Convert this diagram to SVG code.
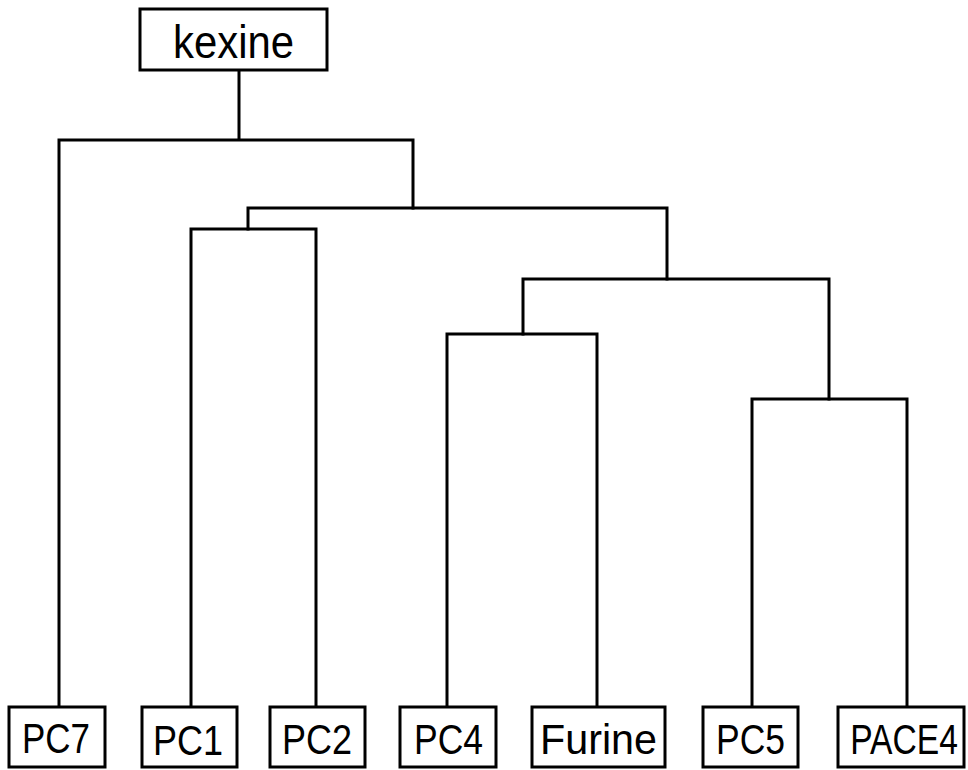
<svg xmlns="http://www.w3.org/2000/svg" width="968" height="770" viewBox="0 0 968 770">
<style>
.box{fill:#fff;stroke:#000;stroke-width:3}
.lbl{font-family:"Liberation Sans",Arial,sans-serif;font-size:42px;fill:#000;text-anchor:middle}
.con{fill:none;stroke:#000;stroke-width:3;stroke-linecap:square}
</style>
<rect width="968" height="770" fill="#fff"/>
<g id="connectors">
<path class="con" d="M239,70V140M59,140H413M59,140V707M413,140V208"/>
<path class="con" d="M248,208H667M248,208V229M667,208V279"/>
<path class="con" d="M191,229H316M191,229V707M316,229V707"/>
<path class="con" d="M523,279H829M523,279V334M829,279V399"/>
<path class="con" d="M447,334H597M447,334V707M597,334V707"/>
<path class="con" d="M752,399H907M752,399V707M907,399V707"/>
</g>
<g id="kexine"><rect class="box" x="140" y="9" width="187" height="61"/><text class="lbl" x="233.5" y="58" textLength="121" lengthAdjust="spacingAndGlyphs" style="font-size:46px">kexine</text></g>
<g id="PC7"><rect class="box" x="9" y="707" width="96" height="60"/><text class="lbl" x="56" y="753" textLength="68" lengthAdjust="spacingAndGlyphs">PC7</text></g>
<g id="PC1"><rect class="box" x="142" y="707" width="95" height="60"/><text class="lbl" x="188" y="755" textLength="70" lengthAdjust="spacingAndGlyphs">PC1</text></g>
<g id="PC2"><rect class="box" x="270" y="707" width="95" height="60"/><text class="lbl" x="317" y="754" textLength="70" lengthAdjust="spacingAndGlyphs">PC2</text></g>
<g id="PC4"><rect class="box" x="400" y="707" width="96" height="60"/><text class="lbl" x="448.5" y="754" textLength="69" lengthAdjust="spacingAndGlyphs">PC4</text></g>
<g id="Furine"><rect class="box" x="532" y="707" width="133" height="60"/><text class="lbl" x="598.5" y="754" textLength="117" lengthAdjust="spacingAndGlyphs">Furine</text></g>
<g id="PC5"><rect class="box" x="703" y="707" width="95" height="60"/><text class="lbl" x="750.5" y="754" textLength="69" lengthAdjust="spacingAndGlyphs">PC5</text></g>
<g id="PACE4"><rect class="box" x="838" y="707" width="126" height="60"/><text class="lbl" transform="translate(904,754) scale(0.8,1)" x="0" y="0">PACE4</text></g>
</svg>
